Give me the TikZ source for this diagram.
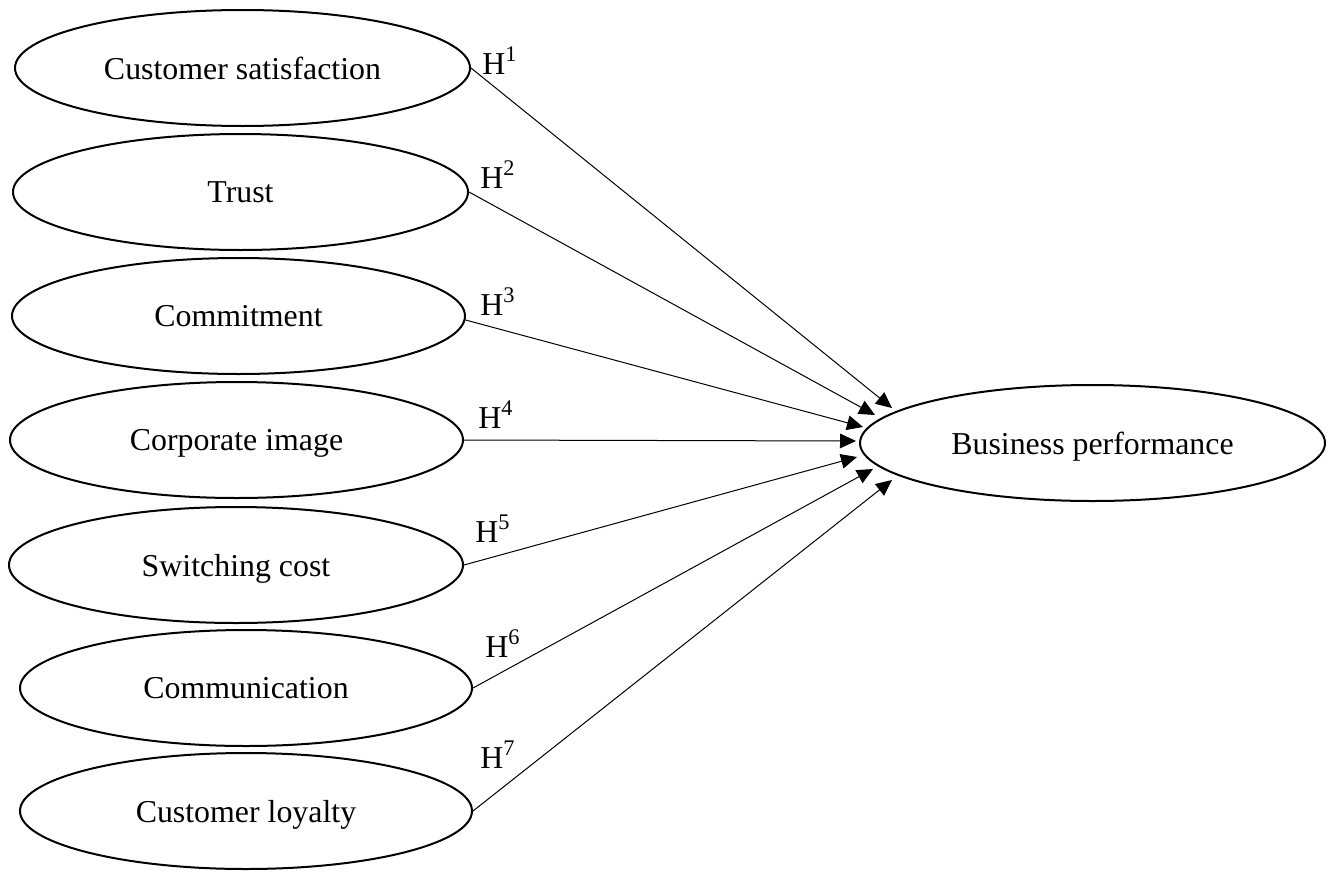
\documentclass[tikz,border=0pt]{standalone}
\usepackage{fontspec}
\setmainfont{Liberation Serif}
\usetikzlibrary{shapes.geometric,arrows.meta}
\begin{document}
\begin{tikzpicture}[x=0.75pt,y=-0.75pt,
  construct/.style={draw,ellipse,line width=1.5pt,inner sep=0pt,
    minimum width=#1,minimum height=87pt,text depth=0pt,
    font=\fontsize{23.9}{28}\selectfont},
  link/.style={-{Triangle[length=12pt,width=11pt]},line width=0.75pt},
  hyp/.style={anchor=base west,inner sep=0pt,font=\fontsize{23.9}{28}\selectfont}]
\useasboundingbox (0,0) rectangle (1335,871);
% constructs
\node[construct=341.25pt] (cs) at (242.5,68) {Customer satisfaction};
\node[construct=341.25pt] (tr) at (240.5,192) {Trust};
\node[construct=339.75pt] (cm) at (238.5,316) {Commitment};
\node[construct=339.75pt] (ci) at (236.5,440) {Corporate image};
\node[construct=340.5pt] (sc) at (236,565) {Switching cost};
\node[construct=339pt] (co) at (246,688) {Communication};
\node[construct=339pt] (cl) at (246,811) {Customer loyalty};
\node[construct=348.75pt] (bp) at (1092.5,443) {Business performance};
% arrow ends
\coordinate (t1) at (892,408);
\coordinate (t2) at (875,415);
\coordinate (t3) at (863,427);
\coordinate (t4) at (856,441);
\coordinate (t5) at (857,457);
\coordinate (t6) at (873,469);
\coordinate (t7) at (892,480);
\draw[link] (cs.east) -- (t1);
\draw[link] (tr.east) -- (t2);
\draw[link] (cm.-1) -- (t3);
\draw[link] (ci.east) -- (t4);
\draw[link] (sc.east) -- (t5);
\draw[link] (co.east) -- (t6);
\draw[link] (cl.east) -- (t7);
% hypothesis labels
\node[hyp] (h1) at (482,74) {H\textsuperscript{1}};
\node[hyp] (h2) at (480,188) {H\textsuperscript{2}};
\node[hyp] (h3) at (480,315) {H\textsuperscript{3}};
\node[hyp] (h4) at (478,428) {H\textsuperscript{4}};
\node[hyp] (h5) at (475,542) {H\textsuperscript{5}};
\node[hyp] (h6) at (485,657) {H\textsuperscript{6}};
\node[hyp] (h7) at (480,768) {H\textsuperscript{7}};
\end{tikzpicture}
\end{document}
